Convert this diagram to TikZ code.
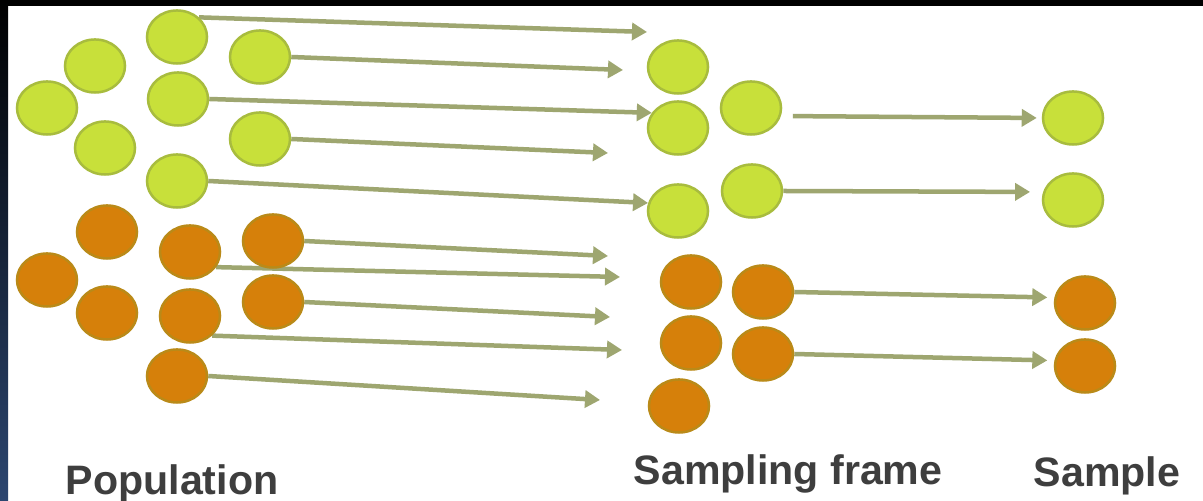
\documentclass[tikz,border=0pt]{standalone}
\usepackage{fontspec}
\setmainfont{Liberation Sans}
\usetikzlibrary{arrows.meta}
\usetikzlibrary{shapes.geometric}
\pgfdeclarelayer{back}
\pgfsetlayers{back,main}

\definecolor{ballgreen}{RGB}{200,224,58}
\definecolor{rimgreen}{RGB}{168,188,62}
\definecolor{ballorange}{RGB}{214,128,10}
\definecolor{rimorange}{RGB}{186,138,24}
\definecolor{arrowgray}{RGB}{158,166,112}
\definecolor{textgray}{RGB}{62,62,62}
\definecolor{edgeblue}{RGB}{44,70,112}

\begin{document}
\begin{tikzpicture}[x=0.01cm,y=-0.01cm]

  \tikzset{
    ball/.style={ellipse,minimum width=0.6cm,minimum height=0.53cm,inner sep=0pt,line width=0.025cm},
    greenball/.style={ball,fill=ballgreen,draw=rimgreen},
    orangeball/.style={ball,fill=ballorange,draw=rimorange},
    flow/.style={arrowgray,line width=0.045cm,-{Triangle[length=0.15cm,width=0.17cm]}},
    caption/.style={textgray,font=\bfseries\fontsize{11.7}{14}\selectfont,inner sep=0pt,anchor=base west},
  }
  \useasboundingbox (0,0) rectangle (1203,501);
  %POPULATION
  \foreach \n/\x/\y in {1/177/37,2/95/66,3/47/108,4/178/99,5/260/57,6/105/148,7/260/139,8/177/181}{
    \node[greenball] (PG\n) at (\x,\y) {};
  }
  \foreach \n/\x/\y in {1/107/232,2/47/280,3/190/252,4/273/241,5/107/313,6/190/316,7/273/302,8/177/376}{
    \node[orangeball] (PO\n) at (\x,\y) {};
  }
  %SAMPLING FRAME
  \foreach \n/\x/\y in {1/678/67,2/678/128,3/751/108,4/678/211,5/752/191}{
    \node[greenball] (FG\n) at (\x,\y) {};
  }
  \foreach \n/\x/\y in {1/691/282,2/763/292,3/691/343,4/763/354,5/679/406}{
    \node[orangeball] (FO\n) at (\x,\y) {};
  }
  %SAMPLE
  \node[greenball] (SG1) at (1073,118) {};
  \node[greenball] (SG2) at (1073,200) {};
  \node[orangeball] (SO1) at (1085,303) {};
  \node[orangeball] (SO2) at (1085,366) {};
  %ARROW ENDS
  \foreach \n/\x/\y in {1/647/32,2/623/70,4/608/153,6/608/256,7/620/277,8/610/317,9/622/350,10/600/400}{
    \coordinate (E\n) at (\x,\y);
  }
  \begin{pgfonlayer}{back}
  %FRAME
  \fill[white] (0,0) rectangle (1203,501);
  \fill[black] (0,0) rectangle (1203,6);
  \shade[top color=black,bottom color=edgeblue] (0,0) rectangle (8,501);
  %ARROWS
  \foreach \a/\b in {PG1.north east/E1,PG5.east/E2,PG4.east/FG2.150,PG7.east/E4,PG8.east/FG4.165,
                     PO4.east/E6,PO3.-30/E7,PO7.east/E8,PO6.south east/E9,PO8.east/E10}{
    \draw[flow] (\a) -- (\b);
  }
  \draw[flow,shorten <=0.12cm,shorten >=0.05cm] (FG3.-15) -- (SG1.west);
  \draw[flow,shorten >=0.13cm] (FG5.east) -- (SG2.165);
  \draw[flow,shorten >=0.07cm] (FO2.east) -- (SO1.170);
  \draw[flow,shorten >=0.07cm] (FO4.east) -- (SO2.170);
  \end{pgfonlayer}
  %LABELS
  \node[caption] (POP) at (65,495) {Population};
  \node[caption] (FRAME) at (633,485) {Sampling frame};
  \node[caption] (SAMPLE) at (1033,487) {Sample};
\end{tikzpicture}
\end{document}
